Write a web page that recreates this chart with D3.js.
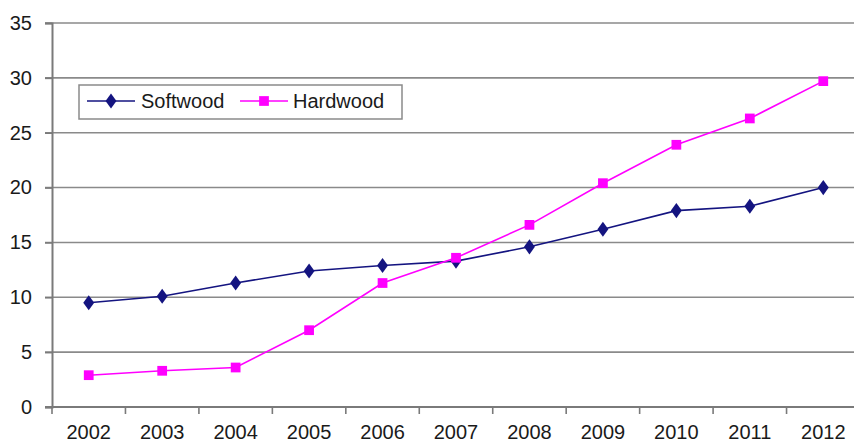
<!DOCTYPE html>
<html>
<head>
<meta charset="utf-8">
<script src="https://cdnjs.cloudflare.com/ajax/libs/d3/7.8.5/d3.min.js"></script>
<style>
  html, body { margin: 0; padding: 0; background: #fff; }
  svg { display: block; }
  text { font-family: "Liberation Sans", Arial, sans-serif; fill: #1a1a1a; }
</style>
</head>
<body>
<svg id="chart" width="854" height="444"></svg>
<script>
// Pulpwood consumption by wood type, 2002–2012
const years = ["2002","2003","2004","2005","2006","2007","2008","2009","2010","2011","2012"];
const softwood = [9.5, 10.1, 11.3, 12.4, 12.9, 13.3, 14.6, 16.2, 17.9, 18.3, 20.0];
const hardwood = [2.9, 3.3, 3.6, 7.0, 11.3, 13.6, 16.6, 20.4, 23.9, 26.3, 29.7];
const yTicks = [0, 5, 10, 15, 20, 25, 30, 35];

const svg = d3.select("#chart");
const plot = { left: 52, right: 860, top: 23, bottom: 407 };

const x = d3.scaleBand().domain(years).range([plot.left, plot.right]).padding(0);
const y = d3.scaleLinear().domain([0, 35]).range([plot.bottom, plot.top]);
const cx = d => x(d) + x.bandwidth() / 2;

// horizontal gridlines
svg.append("g").selectAll("line").data(yTicks).join("line")
  .attr("x1", plot.left - 7).attr("x2", 854)
  .attr("y1", d => y(d)).attr("y2", d => y(d))
  .attr("stroke", "#8a8a8a").attr("stroke-width", 1.6);

// y axis
const yAxis = svg.append("g").attr("transform", `translate(${plot.left},0)`)
  .call(d3.axisLeft(y).tickValues(yTicks).tickSize(7).tickPadding(13));
yAxis.select(".domain").attr("stroke", "#7a7a7a").attr("stroke-width", 2);
yAxis.selectAll(".tick line").attr("stroke", "#7a7a7a").attr("stroke-width", 1.6);
yAxis.selectAll(".tick text").attr("font-size", 20)
  .attr("font-family", "Liberation Sans, Arial, sans-serif").attr("fill", "#1a1a1a");

// x axis with ticks on category boundaries
const xAxis = svg.append("g").attr("transform", `translate(0,${plot.bottom})`);
xAxis.append("line").attr("x1", plot.left - 7).attr("x2", 854)
  .attr("stroke", "#7a7a7a").attr("stroke-width", 2);
const bounds = years.map(d => x(d)).concat([x(years[years.length - 1]) + x.bandwidth()]);
xAxis.selectAll("line.tk").data(bounds).join("line").attr("class", "tk")
  .attr("x1", d => d).attr("x2", d => d).attr("y1", 0).attr("y2", 7)
  .attr("stroke", "#7a7a7a").attr("stroke-width", 1.6);
xAxis.selectAll("text").data(years).join("text")
  .attr("x", d => cx(d)).attr("y", 32).attr("text-anchor", "middle")
  .attr("font-size", 20).text(d => d);

// series
const series = [
  { name: "Softwood", values: softwood, color: "#141480", marker: "diamond" },
  { name: "Hardwood", values: hardwood, color: "#ff00ff", marker: "square" }
];
const line = d3.line().x((d, i) => cx(years[i])).y(d => y(d));
const symbolFor = m => m === "diamond"
  ? d3.symbol().type(d3.symbolDiamond).size(66)
  : d3.symbol().type(d3.symbolSquare).size(95);

series.forEach(s => {
  svg.append("path").datum(s.values).attr("d", line)
    .attr("fill", "none").attr("stroke", s.color).attr("stroke-width", 1.6);
  svg.append("g").selectAll("path").data(s.values).join("path")
    .attr("transform", (d, i) => `translate(${cx(years[i])},${y(d)})` + (s.marker === "diamond" ? " scale(1.25,1)" : ""))
    .attr("d", symbolFor(s.marker)())
    .attr("fill", s.color);
});

// legend
const lg = svg.append("g").attr("transform", "translate(79,85)");
lg.append("rect").attr("width", 323).attr("height", 34)
  .attr("fill", "#fff").attr("stroke", "#8a8a8a").attr("stroke-width", 1.5);
const items = [{ s: series[0], x0: 8, tx: 62 }, { s: series[1], x0: 161, tx: 214 }];
items.forEach(it => {
  lg.append("line").attr("x1", it.x0).attr("x2", it.x0 + 48).attr("y1", 16).attr("y2", 16)
    .attr("stroke", it.s.color).attr("stroke-width", 1.6);
  lg.append("path")
    .attr("transform", `translate(${it.x0 + 24},16)` + (it.s.marker === "diamond" ? " scale(1.25,1)" : ""))
    .attr("d", symbolFor(it.s.marker)()).attr("fill", it.s.color);
  lg.append("text").attr("x", it.tx).attr("y", 23).attr("font-size", 20).text(it.s.name);
});
</script>
</body>
</html>
